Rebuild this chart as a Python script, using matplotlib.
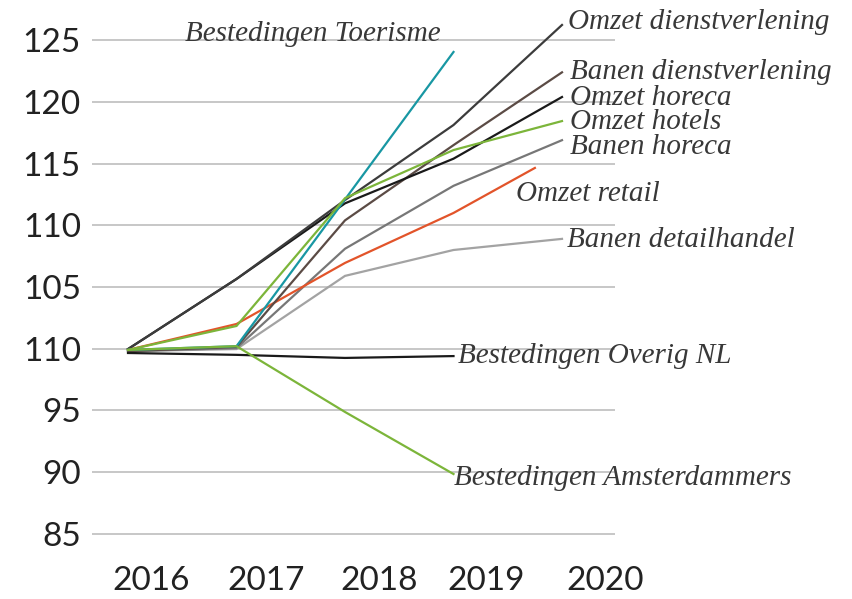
import numpy as np
import matplotlib.pyplot as plt

# jaren en indexcijfers (2016 = 100)
jaren = [2016, 2017, 2018, 2019, 2020]
retail_jaren = [2016, 2017, 2018, 2019, 2019.75]

omzet_dienstverlening = [99.97, 105.65, 112.05, 118.13, 126.24]
banen_dienstverlening = [99.8, 100.15, 110.4, 116.5, 122.4]
omzet_horeca = [99.97, 105.65, 111.78, 115.4, 120.4]
omzet_hotels = [99.9, 101.84, 112.2, 116.1, 118.45]
banen_horeca = [99.8, 100.05, 108.1, 113.2, 116.9]
omzet_retail = [99.9, 102.0, 106.95, 111.0, 114.65]
banen_detailhandel = [99.8, 99.97, 105.9, 108.0, 108.9]
bestedingen_toerisme = [99.9, 100.2, 112.1, 124.05]
bestedingen_overig = [99.65, 99.5, 99.25, 99.4]
bestedingen_adam = [99.9, 100.2, 94.87, 89.84]

y_ticks = [125, 120, 115, 110, 105, 100, 95, 90, 85]
y_labels = ["125", "120", "115", "110", "105", "110", "95", "90", "85"]
x_labels = ["2016", "2017", "2018", "2019", "2020"]
x_label_pos = [2016.21, 2017.27, 2018.31, 2019.30, 2020.40]

# (naam, x, y, kleur, label x, label y)
series = [
    ("Banen detailhandel", jaren, banen_detailhandel, "#a3a3a3", 2020.05, 108.81),
    ("Banen horeca", jaren, banen_horeca, "#777777", 2020.07, 116.35),
    ("Omzet retail", retail_jaren, omzet_retail, "#e2542a", 2019.58, 112.54),
    ("Banen dienstverlening", jaren, banen_dienstverlening, "#5b4b45", 2020.07, 122.43),
    ("Omzet horeca", jaren, omzet_horeca, "#1a1a1a", 2020.07, 120.32),
    ("Omzet dienstverlening", jaren, omzet_dienstverlening, "#3c3c3c", 2020.055, 126.48),
    ("Bestedingen Toerisme", jaren[:4], bestedingen_toerisme, "#1897a3", 2016.525, 125.5),
    ("Omzet hotels", jaren, omzet_hotels, "#7cb53a", 2020.07, 118.37),
    ("Bestedingen Overig NL", jaren[:4], bestedingen_overig, "#1a1a1a", 2019.04, 99.41),
    ("Bestedingen Amsterdammers", jaren[:4], bestedingen_adam, "#7cb53a", 2019.0, 89.52),
]

fig = plt.figure(figsize=(8.52, 5.99), dpi=100)
top_px, bottom_px = 3.25, 558.4
ax = fig.add_axes([92 / 852, 1 - bottom_px / 599, (615 - 92) / 852, (bottom_px - top_px) / 599])

ax.set_xlim(2016 - 36 / 108.5, 2020 + 53 / 108.5)
ax.set_ylim(83, 128)

for yt in y_ticks:
    ax.axhline(yt, color="#b8b8b8", lw=1.1, zorder=0)

for naam, xs, ys, kleur, lx, ly in series:
    ax.plot(xs, ys, color=kleur, lw=1.6, clip_on=False, solid_joinstyle="miter")
    ax.text(lx, ly, naam, family="Liberation Serif", style="italic",
            fontsize=21, color="#383838", va="center", ha="left")

ax.set_yticks(y_ticks)
ax.set_yticklabels(y_labels, family="Lato", fontsize=24, color="#222222")
ax.set_xticks(x_label_pos)
ax.set_xticklabels(x_labels, family="Lato", fontsize=24, color="#222222")
ax.tick_params(axis="both", length=0)
ax.tick_params(axis="y", pad=8)
ax.tick_params(axis="x", pad=5.5)
for s in ax.spines.values():
    s.set_visible(False)

fig.savefig("out.png", dpi=100)
